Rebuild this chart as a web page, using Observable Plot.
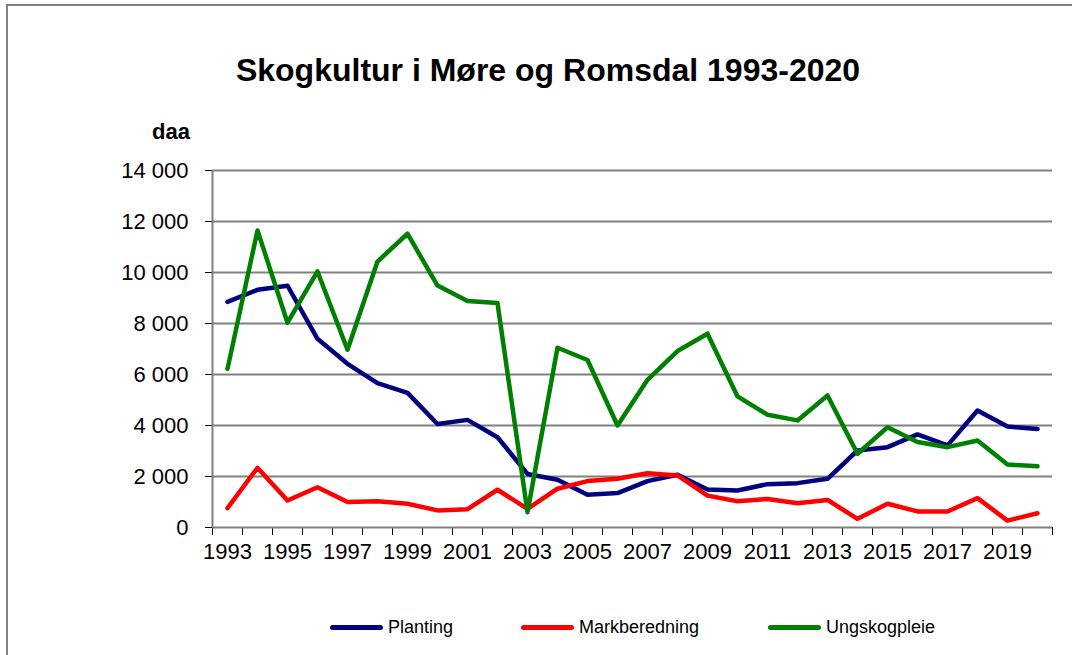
<!DOCTYPE html>
<html>
<head>
<meta charset="utf-8">
<script src="https://cdn.jsdelivr.net/npm/d3@7"></script>
<script src="https://cdn.jsdelivr.net/npm/@observablehq/plot@0.6"></script>
<style>
  html, body { margin: 0; padding: 0; background: #fff; }
  body { width: 1072px; height: 655px; position: relative; overflow: hidden; font-family: "Liberation Sans", Arial, sans-serif; }
  #border { position: absolute; left: 6px; top: 4px; width: 1100px; height: 700px; border-left: 2px solid #808080; border-top: 2px solid #808080; }
  #chart { position: absolute; left: 0; top: 0; }
  #title { position: absolute; left: 0; width: 1096px; top: 52px; text-align: center; font-weight: bold; font-size: 32px; color: #000; }
  #unit { position: absolute; left: 152px; top: 119px; font-weight: bold; font-size: 22px; }
  .leg { position: absolute; top: 617px; font-size: 18px; display: flex; align-items: center; }
  .sw { display: inline-block; width: 53px; height: 5px; border-radius: 3px; margin-right: 5px; }
</style>
</head>
<body>
<div id="border"></div>
<div id="chart"></div>
<div id="title">Skogkultur i Møre og Romsdal 1993-2020</div>
<div id="unit">daa</div>
<div id="legend"></div>
<script>
const years = [1993,1994,1995,1996,1997,1998,1999,2000,2001,2002,2003,2004,2005,2006,2007,2008,2009,2010,2011,2012,2013,2014,2015,2016,2017,2018,2019,2020];
const planting = [8850,9320,9480,7400,6420,5660,5280,4060,4220,3540,2100,1870,1280,1350,1820,2070,1490,1450,1700,1740,1910,3020,3150,3650,3220,4590,3960,3860];
const markberedning = [760,2340,1060,1580,1000,1030,930,670,720,1480,730,1520,1820,1910,2130,2040,1250,1030,1120,950,1080,340,930,630,630,1150,270,560];
const ungskogpleie = [6220,11650,8030,10040,6970,10430,11520,9490,8880,8800,600,7050,6570,4000,5790,6920,7600,5140,4420,4200,5180,2890,3930,3350,3150,3410,2470,2400];
const seriesNames = ["Planting", "Markberedning", "Ungskogpleie"];
const seriesColors = ["#000080", "#ff0000", "#008000"];
const yTicks = [0,2000,4000,6000,8000,10000,12000,14000];
const xLabelYears = ["1993","1995","1997","1999","2001","2003","2005","2007","2009","2011","2013","2015","2017","2019"];

const seriesValues = [planting, markberedning, ungskogpleie];
const data = seriesNames.flatMap((name, i) => years.map((year, j) => ({series: name, year, value: seriesValues[i][j]})));
const boundaries = d3.range(years[0] - 0.5, years[years.length - 1] + 1, 1);
const fmt = d => d3.format(",")(d).replace(/,/g, " ");

const chart = Plot.plot({
  width: 1072,
  height: 580,
  marginTop: 170,
  marginBottom: 53,
  marginLeft: 212,
  marginRight: 20,
  style: {fontFamily: "'Liberation Sans', Arial, sans-serif", fontSize: "22px", background: "transparent", color: "#000"},
  x: {domain: [years[0] - 0.5, years[years.length - 1] + 0.5], ticks: boundaries, tickSize: 8, tickFormat: () => "", label: null},
  y: {domain: [0, 14000], ticks: yTicks, tickSize: 7, tickPadding: 17, tickFormat: fmt, label: null},
  color: {domain: seriesNames, range: seriesColors},
  marks: [
    Plot.ruleY(yTicks, {stroke: "#808080", strokeWidth: 2}),
    Plot.ruleX([years[0] - 0.5], {stroke: "#808080", strokeWidth: 2}),
    Plot.line(data, {x: "year", y: "value", z: "series", stroke: "series", strokeWidth: 4.5}),
    Plot.text(xLabelYears, {x: d => +d, text: d => d, frameAnchor: "bottom", dy: 31, fontSize: 22, fill: "#000"})
  ]
});
document.getElementById("chart").appendChild(chart);
d3.select(chart).selectAll("g[aria-label$='axis'] line, g[aria-label$='axis'] path").attr("stroke", "#666");

const legPos = [330, 521, 768];
const legend = document.getElementById("legend");
seriesNames.forEach((name, i) => {
  const div = document.createElement("div");
  div.className = "leg";
  div.style.left = legPos[i] + "px";
  div.innerHTML = `<span class="sw" style="background:${seriesColors[i]}"></span><span>${name}</span>`;
  legend.appendChild(div);
});
</script>
</body>
</html>
